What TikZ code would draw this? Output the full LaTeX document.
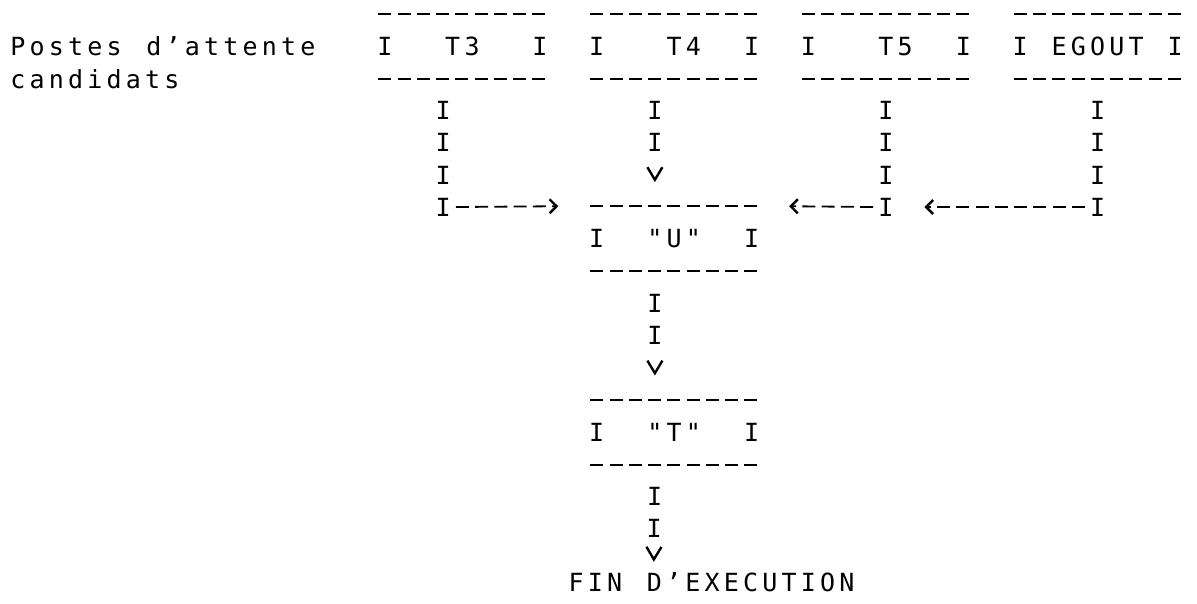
\documentclass[tikz,border=0pt]{standalone}
\usepackage{fontspec}
\newfontfamily\ruban[LetterSpace=16.8, WordSpace={1.279,0,0}]{DejaVu Sans Mono}
\newfontfamily\touche{DejaVu Sans Mono}
\usetikzlibrary{arrows.meta, calc, decorations.markings, positioning}

\tikzset{
  mot/.style={font=\ruban\fontsize{12.5pt}{16pt}\selectfont, inner sep=0pt, text height=9.1pt, text depth=0pt},
  car/.style={font=\touche\fontsize{12.5pt}{16pt}\selectfont, inner sep=0pt, text height=9.1pt, text depth=0pt},
  tirets/.style={line width=0.9pt, dash pattern=on 6.5pt off 3.125pt},
  poste/.style={mot, minimum width=86.625pt, minimum height=32.1pt,
    append after command={\pgfextra{\let\boite\tikzlastnode}
      ([xshift=1.56pt]\boite.north west) edge[tirets] (\boite.north east)
      ([xshift=1.56pt]\boite.south west) edge[tirets] (\boite.south east)
      ([xshift=4.8125pt]\boite.west) node[car] (\boite-g) {I}
      ([xshift=-4.8125pt]\boite.east) node[car] (\boite-d) {I}}},
  colonne/.style={line width=1pt, dash pattern=on 0pt off 200pt, postaction={decorate},
    decoration={markings, mark=between positions 16.05pt and #1 step 16.05pt with {\node[car] {I};}}},
  colonne/.default=1,
  vers/.style={-{Straight Barb[length=6.3pt, width=7.5pt, line width=1.2pt]}},
  chevron/.style={tirets, -{Straight Barb[length=3.5pt, width=7pt, line width=1.2pt]}},
}

\begin{document}
\begin{tikzpicture}[x=9.625pt, y=-16.05pt]
    \useasboundingbox (-0.52,-0.4365) rectangle (61.66,18.35);

    \node[mot, anchor=west] (postes) at (0,1) {Postes d’attente};
    \node[mot, below=6.95pt of postes.south west, anchor=north west] (candidats) {candidats};

    % postes d'attente candidats
    \foreach \nom/\cx/\txt in {t3/23.5/{T3\hspace{9.625pt}}, t4/34.5/{\hspace{9.625pt}T4},
                               t5/45.5/{\hspace{9.625pt}T5}, egout/56.5/EGOUT}
        \node[poste] (\nom) at (\cx,1) {\txt};

    \node[poste] (u) at (34.5,7) {"U"};
    \node[poste, below=64.2pt of u] (t) {"T"};
    \node[mot, anchor=west] (fin) at (29,17.71) {FIN D’EXECUTION};

    % T3 -> U
    \coordinate (coin3) at ($(t3.south)+(-1,4)$);
    \path[colonne] ($(t3.south)+(-1,0)$) -- ($(coin3)+(0,0.1)$);
    \draw[chevron] ($(coin3)+(0.5,0)+(1.56pt,0)$) -- ($(u.north west)+(-1.5,0)$);
    % T4 -> U
    \draw[colonne=33pt, vers] ($(t4.south)+(-1,0)$) -- ($(u.north)+(-1,-0.75)$);
    % T5 -> U
    \coordinate (coin5) at ($(t5.south)+(0,4)$);
    \path[colonne] (t5.south) -- ($(coin5)+(0,0.1)$);
    \draw[chevron] ($(coin5)+(-0.5,0)+(-1.56pt,0)$) -- ($(u.north east)+(1.45,0)$);
    % EGOUT -> T5
    \coordinate (coinE) at ($(egout.south)+(0,4)$);
    \path[colonne] (egout.south) -- ($(coinE)+(0,0.1)$);
    \draw[chevron] ($(coinE)+(-0.5,0)+(-1.56pt,0)$) -- ($(coin5)+(2,0)$);
    % U -> T -> fin
    \draw[colonne=33pt, vers] ($(u.south)+(-1,0)$) -- ($(t.north)+(-1,-0.75)$);
    \draw[colonne=33pt, vers] ($(t.south)+(-1,0)$) -- ($(fin.north)+(-3,-0.35)$);
\end{tikzpicture}
\end{document}
